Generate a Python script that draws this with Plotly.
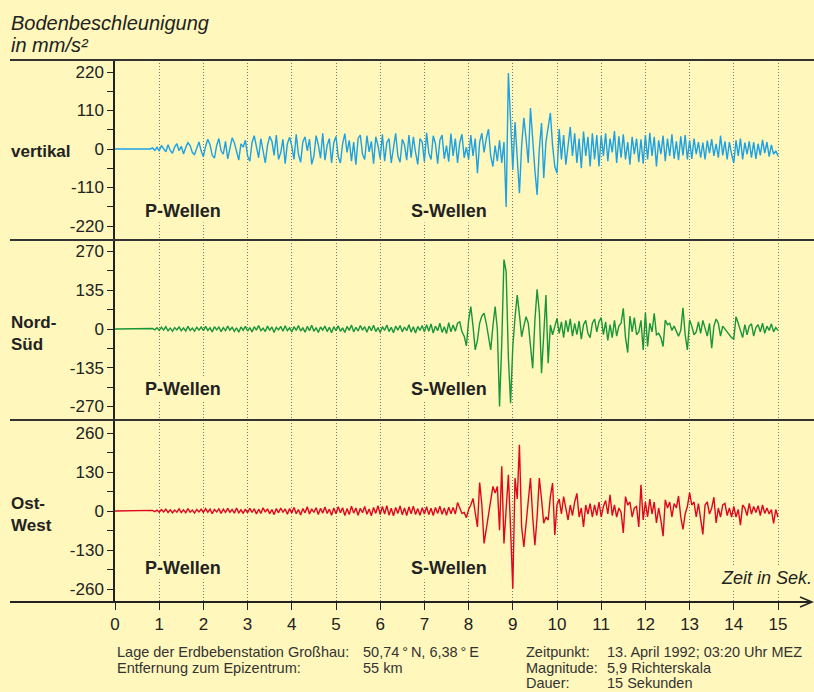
import plotly.graph_objects as go

# ---------------- data ----------------
DT = 0.05  # sampling interval in seconds
time_ticks = list(range(0, 16))

vert = [0]*16 + [0, 3, -4, 5] + [
    -6, 10, 2, -8, 12, -4, -12, 6, 15, -5, 8, -14, 4, 18, 10, -10, -16, 5, 20, -6,
    -22, 8, 28, 12, -18, -26, 10, 30, -5, -15, 22, -28, 6, 32, 18, -12, -32, 15, 5, 25,
    -20, -35, 18, 38, 5, -25, 30, -12, -40, 10, 36, 22, -18, 40, -30, -10, 28, -42, 15, 34,
    8, -30, 42, -15, -38, 20, 35, -5, 28, -44, -20, 38, 12, -26, 45, -32, 10, 30, -40, 18,
    36, -22, -40, 15, 44, -10, 25, -35, 20, -45, 30, 40, -15, -30, 38, -8, 22, -42, 35, 10,
    -28, 42, -35, 18, 30, -40, 5, 45, -20, -38, 28, 12, -32, 40, -25, 35, -10, -44, 30, 20,
    -36, 46, -12, -30, 38, 15, -42, 25, 40, -28, 10, -36, 44, -20, 30, -40, 18, 42, -25, 5,
    -30, 40, -20, 30, -69, 20, 45, -10, 30, 57, -20, -50, 10, -35, 25, -40, 20, -166, 217, 60,
    -60, 77, -20, -126, 10, 89, 30, -40, 117, 20, -60, -131, 0, 74, -83, 20, 60, 103, 10, -50,
    -69, 57, -30, 40, -45, 20, 63, -20, 45, -40, 30, -55, 50, -20, 35, -50, 45, -30, 40, -50,
    38, -20, 45, -35, 30, -10, 51, -40, 36, -25, 42, -30, 20, -45, 35, -15, 30, -38, 28, -42,
    40, -30, 46, -20, 35, -50, 25, -15, 38, -35, 30, -20, 42, -28, 22, -32, 36, -18, 40, -30,
    25, -28, 30, -15, 20, -25, 18, -30, 24, -12, 28, -20, 15, -25, 38, -18, 22, -30, 20, -15,
    -40, 25, -20, 30, -30, 18, -15, 22, -25, 20, -28, 15, -18, 26, -12, 20, -22, 12, -15, -5,
    -20]

nord_sued = [0]*16 + [0, 2, -3, 4] + [
    -5, 6, -4, 8, -6, 3, -8, 5, -3, 7, -6, 4, -7, 9, -5, 3, -8, 6, -4, 7,
    -6, 9, -5, 4, -10, 8, -3, 7, -9, 5, -6, 10, -4, 6, -8, 4, -11, 7, -5, 9,
    -7, 5, -10, 8, -4, 12, -6, 3, -9, 10, -5, 7, -12, 6, -3, 9, -8, 11, -6, 4,
    -10, 8, -5, 12, -7, 4, -11, 9, -6, 13, -8, 5, -12, 7, -4, 10, -9, 6, -13, 8,
    -6, 11, -8, 4, -12, 9, -5, 14, -10, 6, -7, 12, -4, 8, -11, 10, -6, 13, -9, 5,
    -12, 8, -5, 14, -9, 6, -13, 10, -4, 12, -10, 7, -6, 15, -11, 8, -14, 9, -5, 12,
    -10, 15, -8, 18, -14, 10, -6, 20, -12, 8, -16, 22, -10, 14, -8, 20, 25, -10, -25, -59,
    30, 78, 10, -73, -40, 20, 45, 55, 20, -30, -73, 10, 78, 0, -270, -50, 242, 200, -100, -259,
    -61, 40, 118, 50, -27, 10, 43, 20, -60, -137, 30, 138, 60, -154, -20, 118, -119, 14, -20, 10,
    37, -15, 25, -30, 30, -10, 35, -25, 20, -20, 28, -35, 15, 30, -15, -30, 20, 35, -10, 25,
    40, -20, 25, -40, 15, -30, 30, -25, 10, 20, 72, -30, -82, 45, -10, 40, -20, -10, 30, -73,
    57, -61, 20, -10, 55, -20, -15, -30, -61, 31, 15, 20, -5, 10, -10, -25, -5, 74, -20, -73,
    31, 10, -20, -10, 25, -15, 30, 0, -25, 20, -67, 10, 35, 20, -25, 10, 0, -10, -20, -30,
    -35, 43, 20, -10, -30, 15, -20, 10, 18, -25, 5, 15, -10, 20, -15, 10, -5, 18, -10, 5,
    -5]

ost_west = [0]*16 + [0, 2, -2, 3] + [
    -4, 5, -3, 6, -5, 4, -6, 3, -4, 7, -5, 4, -6, 8, -4, 3, -7, 5, -3, 6,
    -5, 8, -4, 6, -9, 5, -3, 7, -8, 6, -5, 9, -4, 5, -7, 10, -6, 4, -8, 6,
    -6, 9, -5, 7, -10, 6, -8, 11, -4, 7, -9, 5, -12, 8, -6, 10, -5, 7, -11, 8,
    -7, 12, -9, 5, -13, 8, -6, 14, -10, 7, -5, 11, -12, 9, -7, 13, -8, 6, -14, 10,
    -9, 14, -6, 11, -15, 8, -12, 16, -7, 10, -14, 9, -6, 15, -11, 7, -16, 12, -8, 18,
    -12, 15, -10, 18, -14, 9, -16, 12, -8, 17, -13, 10, -15, 14, -9, 16, -12, 8, -14, 11,
    -10, 14, -12, 9, -15, 12, -8, 16, -11, 10, -14, 13, -9, 12, -10, 28, 10, -8, -5, -22,
    5, 20, 42, -10, -53, 95, 20, -108, -60, -20, 40, 82, 60, 82, -64, 149, -108, 0, 121, -60,
    -259, 110, 40, 221, -53, -120, -40, 40, 110, -20, -114, -20, 110, 40, -41, -20, -30, 48, 93, -80,
    20, 40, -10, 48, 10, -30, 20, -15, 30, 59, -20, 10, -53, 20, -10, 25, -20, 20, -15, 30,
    -20, 15, 35, -10, 54, -15, 20, -20, 10, -5, -73, 48, 20, 30, -20, 10, 15, -53, 87, -30,
    30, -20, 40, -10, 30, -40, 10, -30, -84, 37, 10, 30, -20, 25, 10, 50, -20, -61, -10, 15,
    61, 20, 30, -20, 25, -30, -78, 20, 30, -10, 10, 46, -40, 10, -20, 20, 25, -15, 10, -20,
    15, -20, 5, -47, 20, 10, -15, 25, -10, 15, -5, 18, -15, 20, -8, 10, -10, 5, -41, 5,
    -20]

times = [round(i * DT, 2) for i in range(len(vert))]

panel_names = ["vertikal", "Nord-<br>Süd", "Ost-<br>West"]
panel_ticks = [[220, 110, 0, -110, -220], [270, 135, 0, -135, -270], [260, 130, 0, -130, -260]]
panel_ticktext = [["220", "110", "0", "-110", "-220"],
                  ["270", "135", "0", "-135", "-270"],
                  ["260", "130", "0", "-130", "-260"]]
series = [vert, nord_sued, ost_west]

footer_left = ["Lage der Erdbebenstation Großhau:", "Entfernung zum Epizentrum:"]
footer_left_vals = ["50,74\u2009°\u2009N, 6,38\u2009°\u2009E", "55 km"]
footer_right = ["Zeitpunkt:", "Magnitude:", "Dauer:"]
footer_right_vals = ["13. April 1992; 03:20 Uhr MEZ", "5,9 Richterskala", "15 Sekunden"]

# ---------------- styling / layout ----------------
W, H = 814, 692
BG = "#FFF7BB"
FONT = "Liberation Sans, Arial, sans-serif"
colors = ["#1BA1E6", "#17963A", "#E0061F"]
panel_px = [(60, 240), (240, 420), (420, 602)]   # top, bottom pixel of each panel
zero_px = [149, 329, 511]
scale_px = [77 / 220, 77.5 / 270, 78 / 260]     # pixels per unit
minor_dt = [55, 67.5, 65]

X0_PX, X_SCALE = 115, 44.2


def xp(px):
    return px / W


def yp(py):
    return 1 - py / H


fig = go.Figure()
for i, ys in enumerate(series):
    ax = "y" if i == 0 else f"y{i+1}"
    fig.add_trace(go.Scatter(x=times, y=ys, mode="lines", xaxis="x", yaxis=ax,
                             line=dict(color=colors[i], width=1.4), hoverinfo="skip",
                             showlegend=False))

layout = dict(
    width=W, height=H, margin=dict(l=0, r=0, t=0, b=0, pad=0, autoexpand=False),
    paper_bgcolor=BG, plot_bgcolor=BG,
    font=dict(family=FONT, size=16, color="#222"),
    showlegend=False,
    xaxis=dict(domain=[xp(X0_PX), 1.0], range=[0, (W - X0_PX) / X_SCALE],
               anchor="y3", tickmode="array", tickvals=time_ticks,
               ticktext=[str(t) for t in time_ticks],
               ticks="outside", ticklen=7, tickwidth=1.2, tickcolor="#222",
               tickfont=dict(size=17, color="#222", family=FONT),
               showgrid=True, gridcolor="#777", griddash="1px,2px", gridwidth=1,
               showline=False, zeroline=False, automargin=False),
)
for i in range(3):
    top, bot = panel_px[i]
    z, s = zero_px[i], scale_px[i]
    key = "yaxis" if i == 0 else f"yaxis{i+1}"
    layout[key] = dict(
        domain=[yp(bot), yp(top)],
        range=[-(bot - z) / s, (z - top) / s],
        anchor="x", tickmode="array", tickvals=panel_ticks[i], ticktext=panel_ticktext[i],
        ticks="outside", ticklen=6, tickwidth=1.2, tickcolor="#222",
        minor=dict(ticks="outside", ticklen=6, tickwidth=1.2, tickcolor="#222",
                   tick0=0, dtick=minor_dt[i], showgrid=False),
        tickfont=dict(size=17, color="#222", family=FONT),
        showline=True, linecolor="#222", linewidth=1.5,
        showgrid=False, zeroline=False, automargin=False,
    )
fig.update_layout(**layout)

# separator lines and time axis arrow
shapes = []
for py in [60, 240, 420]:
    shapes.append(dict(type="line", xref="paper", yref="paper", x0=xp(10), x1=1.0,
                       y0=yp(py), y1=yp(py), line=dict(color="#333", width=1.8)))
shapes.append(dict(type="line", xref="paper", yref="paper", x0=xp(10), x1=xp(811),
                   y0=yp(602), y1=yp(602), line=dict(color="#222", width=1.8)))
shapes.append(dict(type="path", xref="paper", yref="paper",
                   path=f"M {xp(800)},{yp(597)} L {xp(812)},{yp(602)} L {xp(800)},{yp(607)}",
                   line=dict(color="#222", width=1.5)))
fig.update_layout(shapes=shapes)

ann = []
# title
for txt, py in [("Bodenbeschleunigung", 23), ("in mm/s²", 45)]:
    ann.append(dict(text=f"<i>{txt}</i>", x=xp(9), y=yp(py),
                    xref="paper", yref="paper", xanchor="left", yanchor="middle", align="left",
                    showarrow=False, font=dict(size=20, color="#222", family=FONT)))
# panel names
name_y = [151, 333, 514]
for i, nm in enumerate(panel_names):
    ann.append(dict(text=f"<b>{nm}</b>", x=xp(9), y=yp(name_y[i]), xref="paper", yref="paper",
                    xanchor="left", yanchor="middle", align="left", showarrow=False,
                    font=dict(size=17, color="#222", family=FONT)))
# wave labels
wave_y = [211, 389, 568]
for i in range(3):
    for lbl, cx in [("P-Wellen", 183), ("S-Wellen", 449)]:
        ann.append(dict(text=f"<b>{lbl}</b>", x=xp(cx), y=yp(wave_y[i]), xref="paper",
                        yref="paper", xanchor="center", yanchor="middle", showarrow=False,
                        bgcolor=BG, borderpad=1,
                        font=dict(size=18, color="#222", family=FONT)))
# time axis title
ann.append(dict(text="<i>Zeit in Sek.</i>", x=xp(814), y=yp(578), xref="paper", yref="paper",
                xanchor="right", yanchor="middle", showarrow=False, bgcolor=BG,
                font=dict(size=18, color="#222", family=FONT)))
# footer
line_y = [652, 668, 683]
for col_px, lines in [(115, footer_left), (361, footer_left_vals),
                      (524, footer_right), (605, footer_right_vals)]:
    for j, txt in enumerate(lines):
        ann.append(dict(text=txt, x=xp(col_px), y=yp(line_y[j]), xref="paper", yref="paper",
                        xanchor="left", yanchor="middle", align="left", showarrow=False,
                        font=dict(size=14.5, color="#333", family=FONT)))
fig.update_layout(annotations=ann)

fig.write_html("out.html", config={"displayModeBar": False},
               post_script="document.body.style.margin='0';document.body.style.overflow='hidden';")
